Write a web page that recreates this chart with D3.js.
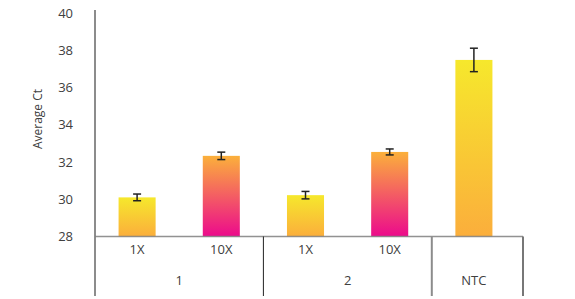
<!DOCTYPE html>
<html>
<head>
<meta charset="utf-8">
<script src="https://cdn.jsdelivr.net/npm/d3@7"></script>
<style>
  body { margin: 0; background: #fff; }
  text { font-family: "Open Sans", sans-serif; fill: #404040; }
</style>
</head>
<body>
<div id="chart"></div>
<script>
// data
const groups = ["1", "1", "2", "2", "NTC"];
const doses = ["1X", "10X", "1X", "10X", ""];
const avgCt = [30.1, 32.33, 30.22, 32.54, 37.48];
const errCt = [0.18, 0.2, 0.2, 0.16, 0.63];
const fills = ["low", "high", "low", "high", "low"];
const yTicks = [28, 30, 32, 34, 36, 38, 40];

const W = 575, H = 299;
const x0 = 95, x1 = 516, outerRight = 523;
const baseY = 236.5, bottomY = 296;

const svg = d3.select("#chart").append("svg")
    .attr("width", W)
    .attr("height", H);

// gradients
const defs = svg.append("defs");
const grads = {
    low: ["#f6e82c", "#fbae3c"],
    high: ["#fbb03b", "#ec0a8c"]
};
Object.keys(grads).forEach(k => {
    const g = defs.append("linearGradient")
        .attr("id", "g-" + k)
        .attr("x1", 0).attr("y1", 0).attr("x2", 0).attr("y2", 1);
    g.append("stop").attr("offset", "0%").attr("stop-color", grads[k][0]);
    g.append("stop").attr("offset", "100%").attr("stop-color", grads[k][1]);
});

// scales
const x = d3.scaleBand()
    .domain(d3.range(avgCt.length))
    .range([x0, x1])
    .paddingInner(0.56)
    .paddingOuter(0.28);
const step = x.step();

const y = d3.scaleLinear()
    .domain([28, 40])
    .range([baseY, 13]);

// bars
svg.selectAll("rect.bar")
    .data(avgCt)
    .enter()
    .append("rect")
    .attr("class", "bar")
    .attr("x", (d, i) => x(i))
    .attr("width", x.bandwidth())
    .attr("y", d => y(d))
    .attr("height", d => y(28) - y(d))
    .attr("fill", (d, i) => "url(#g-" + fills[i] + ")");

// error bars
const eb = svg.selectAll("g.err")
    .data(avgCt)
    .enter()
    .append("g")
    .attr("class", "err")
    .attr("stroke", "#222")
    .attr("stroke-width", 1.5);
const cx = i => x(i) + x.bandwidth() / 2;
eb.append("line")
    .attr("x1", (d, i) => cx(i)).attr("x2", (d, i) => cx(i))
    .attr("y1", (d, i) => y(d + errCt[i])).attr("y2", (d, i) => y(d - errCt[i]));
eb.append("line")
    .attr("x1", (d, i) => cx(i) - 4).attr("x2", (d, i) => cx(i) + 4)
    .attr("y1", (d, i) => y(d + errCt[i])).attr("y2", (d, i) => y(d + errCt[i]));
eb.append("line")
    .attr("x1", (d, i) => cx(i) - 4).attr("x2", (d, i) => cx(i) + 4)
    .attr("y1", (d, i) => y(d - errCt[i])).attr("y2", (d, i) => y(d - errCt[i]));

// y axis
const yAxis = svg.append("g")
    .attr("transform", `translate(${x0},0)`)
    .call(d3.axisLeft(y).tickValues(yTicks).tickSize(0).tickPadding(22));
yAxis.select(".domain").remove();
yAxis.selectAll("text")
    .style("font-size", "13px")
    .attr("fill", "#404040");

svg.append("line")
    .attr("x1", x0).attr("x2", x0)
    .attr("y1", 10).attr("y2", bottomY)
    .attr("stroke", "#8c8c8c").attr("stroke-width", 2);

// baseline
svg.append("line")
    .attr("x1", x0).attr("x2", outerRight)
    .attr("y1", baseY).attr("y2", baseY)
    .attr("stroke", "#7f7f7f").attr("stroke-opacity", 0.85).attr("stroke-width", 1.5);

// group separators
svg.append("line")
    .attr("x1", x0 + step * 2).attr("x2", x0 + step * 2)
    .attr("y1", baseY).attr("y2", bottomY)
    .attr("stroke", "#222").attr("stroke-width", 1);
svg.append("line")
    .attr("x1", x0 + step * 4).attr("x2", x0 + step * 4)
    .attr("y1", baseY).attr("y2", bottomY)
    .attr("stroke", "#8c8c8c").attr("stroke-width", 2);
svg.append("line")
    .attr("x1", outerRight).attr("x2", outerRight)
    .attr("y1", baseY).attr("y2", bottomY)
    .attr("stroke", "#777").attr("stroke-width", 2);

// dose labels
svg.selectAll("text.dose")
    .data(doses)
    .enter()
    .append("text")
    .attr("class", "dose")
    .attr("x", (d, i) => cx(i))
    .attr("y", 254)
    .attr("text-anchor", "middle")
    .style("font-size", "13px")
    .text(d => d);

// group labels
const groupNames = ["1", "2", "NTC"];
const groupCenters = groupNames.map(g => d3.mean(d3.range(groups.length).filter(i => groups[i] === g), cx));
svg.selectAll("text.group")
    .data(groupNames)
    .enter()
    .append("text")
    .attr("class", "group")
    .attr("x", (d, i) => groupCenters[i])
    .attr("y", 285)
    .attr("text-anchor", "middle")
    .style("font-size", "13px")
    .text(d => d);

// y title
svg.append("text")
    .attr("transform", "rotate(-90)")
    .attr("x", -119)
    .attr("y", 42)
    .attr("text-anchor", "middle")
    .style("font-size", "12px")
    .text("Average Ct");
</script>
</body>
</html>
